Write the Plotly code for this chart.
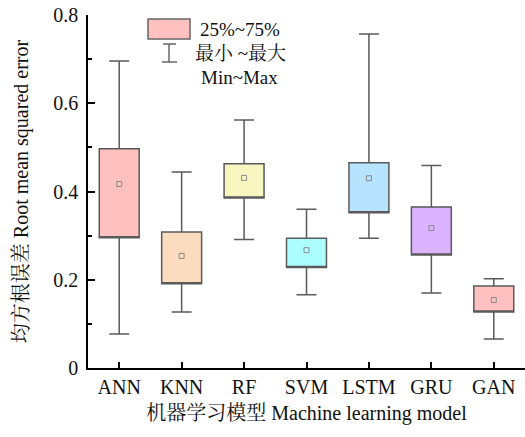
import plotly.graph_objects as go

# RMSE statistics per model
models = ["ANN", "KNN", "RF", "SVM", "LSTM", "GRU", "GAN"]
rmse_min = [0.077, 0.127, 0.291, 0.166, 0.294, 0.170, 0.066]
rmse_q1 = [0.295, 0.191, 0.385, 0.228, 0.352, 0.256, 0.127]
rmse_q3 = [0.497, 0.308, 0.463, 0.294, 0.465, 0.365, 0.186]
rmse_max = [0.696, 0.444, 0.562, 0.360, 0.757, 0.459, 0.202]
rmse_mean = [0.417, 0.254, 0.431, 0.267, 0.430, 0.317, 0.154]
fill_colors = ["#FFC0C0", "#FBDCBF", "#F8F6C0", "#ADFFFF", "#B7E3FF", "#DBB3FF", "#FFC0C0"]

FONT = "Liberation Serif, 'Noto Serif CJK SC', 'Noto Sans CJK SC', serif"
W, H = 525, 437
ML, MR, MT, MB = 88, 0, 15, 69


def px_x(px):
    return (px - ML) / (W - ML - MR)


def px_y(py):
    return (H - MB - py) / (H - MT - MB)


fig = go.Figure()

for i, m in enumerate(models):
    # no median line is shown: it is placed on the lower quartile edge
    fig.add_trace(go.Box(
        x=[m],
        q1=[rmse_q1[i]], median=[rmse_q1[i]], q3=[rmse_q3[i]],
        lowerfence=[rmse_min[i]], upperfence=[rmse_max[i]],
        fillcolor=fill_colors[i],
        line=dict(color="#5a5a5a", width=1.5),
        width=0.64, whiskerwidth=0.5,
        boxpoints=False, showlegend=False, hoverinfo="skip",
    ))

fig.add_trace(go.Scatter(
    x=models, y=rmse_mean, mode="markers",
    marker=dict(symbol="square-open", size=5, color="#8a8a8a", line=dict(width=1)),
    showlegend=False, hoverinfo="skip",
))

# key: quartile box and min-max whisker
shapes = [
    dict(type="rect", xref="paper", yref="paper",
         x0=px_x(148), x1=px_x(190), y0=px_y(39), y1=px_y(19),
         fillcolor="#FFC0C0", line=dict(color="#666666", width=1.5)),
    dict(type="line", xref="paper", yref="paper",
         x0=px_x(169), x1=px_x(169), y0=px_y(62), y1=px_y(44),
         line=dict(color="#666666", width=1.5)),
    dict(type="line", xref="paper", yref="paper",
         x0=px_x(163), x1=px_x(176), y0=px_y(44), y1=px_y(44),
         line=dict(color="#666666", width=1.5)),
    dict(type="line", xref="paper", yref="paper",
         x0=px_x(162), x1=px_x(177), y0=px_y(62), y1=px_y(62),
         line=dict(color="#666666", width=1.5)),
]
annotations = [
    dict(text="25%~75%", x=px_x(198), y=px_y(30)),
    dict(text="最小 ~最大", x=px_x(193), y=px_y(54)),
    dict(text="Min~Max", x=px_x(199), y=px_y(77)),
]
for a in annotations:
    a.update(xref="paper", yref="paper", xanchor="left", yanchor="middle",
             showarrow=False, font=dict(family=FONT, size=19, color="#111111"))

fig.update_layout(
    width=W, height=H,
    margin=dict(l=ML, r=MR, t=MT, b=MB),
    paper_bgcolor="white", plot_bgcolor="white",
    font=dict(family=FONT, color="#111111"),
    shapes=shapes, annotations=annotations,
    boxmode="overlay",
)
fig.update_xaxes(
    type="category", categoryorder="array", categoryarray=models,
    range=[-0.5, 6.5],
    showline=True, linecolor="black", linewidth=1.5, mirror=False,
    ticks="inside", ticklen=6, tickwidth=1.5, tickcolor="black",
    showgrid=False, zeroline=False,
    tickfont=dict(family=FONT, size=20, color="#111111"),
    title=dict(text="机器学习模型 Machine learning model",
               font=dict(family=FONT, size=20, color="#111111"), standoff=9),
)
fig.update_yaxes(
    range=[0, 0.8], tickvals=[0, 0.2, 0.4, 0.6, 0.8],
    ticktext=["0", "0.2", "0.4", "0.6", "0.8"],
    showline=True, linecolor="black", linewidth=1.5, mirror=False,
    ticks="inside", ticklen=7, tickwidth=1.5, tickcolor="black",
    minor=dict(tickvals=[0.1, 0.3, 0.5, 0.7], ticks="inside", ticklen=4,
               tickwidth=1.5, tickcolor="black"),
    showgrid=False, zeroline=False, ticklabelstandoff=4,
    tickfont=dict(family=FONT, size=20, color="#111111"),
    title=dict(text="均方根误差 Root mean squared error",
               font=dict(family=FONT, size=20, color="#111111"), standoff=19),
)

fig.write_html("out.html")
